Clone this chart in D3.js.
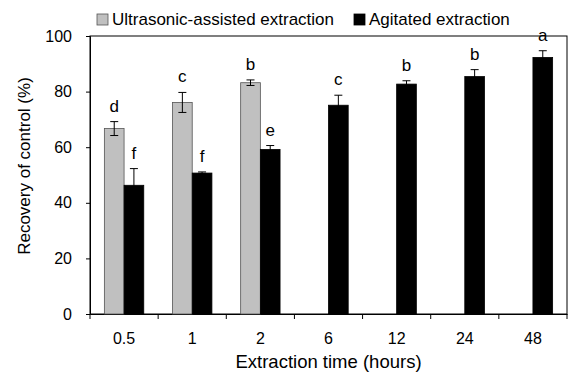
<!DOCTYPE html>
<html>
<head>
<meta charset="utf-8">
<script src="https://cdn.jsdelivr.net/npm/d3@7/dist/d3.min.js"></script>
<style>
  body { margin: 0; background: #fff; }
  text { font-family: "Liberation Sans", Arial, sans-serif; fill: #000; }
</style>
</head>
<body>
<div id="chart"></div>
<script>
// extraction times (hours)
const times = ['0.5', '1', '2', '6', '12', '24', '48'];
const yTicks = [0, 20, 40, 60, 80, 100];

// ultrasonic-assisted extraction (only first three times)
const ultraMean = [66.7, 76.1, 83.2, null, null, null, null];
const ultraErr = [2.5, 3.6, 1.0, null, null, null, null];
const ultraLetters = ['d', 'c', 'b', null, null, null, null];

// agitated extraction
const agitMean = [46.3, 50.7, 59.2, 75.1, 82.7, 85.4, 92.3];
const agitErr = [6.0, 0.4, 1.4, 3.6, 1.2, 2.5, 2.4];
const agitLetters = ['f', 'f', 'e', 'c', 'b', 'b', 'a'];

const seriesNames = ['Ultrasonic-assisted extraction', 'Agitated extraction'];
const seriesColors = ['#c0c0c0', '#000000'];

const W = 571, H = 378;
const margin = {top: 36, right: 4, bottom: 64, left: 90};
const innerW = W - margin.left - margin.right;
const innerH = H - margin.top - margin.bottom;

const svg = d3.select('#chart').append('svg')
    .attr('width', W)
    .attr('height', H);

const g = svg.append('g')
    .attr('transform', 'translate(' + margin.left + ',' + margin.top + ')');

const x = d3.scaleBand().domain(times).range([0, innerW]).padding(0);
const sub = d3.scaleBand().domain([0, 1]).range([x.bandwidth() / 2 - 19.7, x.bandwidth() / 2 + 19.7]);
const y = d3.scaleLinear().domain([0, 100]).range([innerH, 0]);

// frame
g.append('rect')
    .attr('width', innerW)
    .attr('height', innerH)
    .attr('fill', 'none')
    .attr('stroke', '#000')
    .attr('stroke-width', 1);

// y axis
const yAxis = g.append('g')
    .call(d3.axisLeft(y).tickValues(yTicks).tickSize(4).tickPadding(14));
yAxis.select('.domain').attr('stroke', '#000');
yAxis.selectAll('text').style('font-size', '16px').attr('fill', '#000');

// x axis: ticks at category boundaries
const xAxis = g.append('g')
    .attr('transform', 'translate(0,' + innerH + ')')
    .call(d3.axisBottom(x).tickSize(0).tickPadding(19));
xAxis.select('.domain').attr('stroke', '#000');
xAxis.selectAll('text').style('font-size', '16px').attr('fill', '#000');

const bounds = times.map(t => x(t)).concat([innerW]);
xAxis.selectAll('line.bound')
    .data(bounds)
    .enter().append('line')
    .attr('class', 'bound')
    .attr('x1', d => d).attr('x2', d => d)
    .attr('y1', 0).attr('y2', 5)
    .attr('stroke', '#000');

// build rows for both series
const rows = [];
times.forEach((t, i) => {
  if (ultraMean[i] != null) rows.push({t: t, s: 0, v: ultraMean[i], e: ultraErr[i], l: ultraLetters[i]});
  rows.push({t: t, s: 1, v: agitMean[i], e: agitErr[i], l: agitLetters[i]});
});

// bars
g.selectAll('rect.bar')
    .data(rows)
    .enter().append('rect')
    .attr('class', 'bar')
    .attr('x', d => x(d.t) + sub(d.s))
    .attr('y', d => y(d.v))
    .attr('width', sub.bandwidth())
    .attr('height', d => innerH - y(d.v))
    .attr('fill', d => seriesColors[d.s])
    .attr('stroke', d => d.s === 0 ? '#555' : '#000')
    .attr('stroke-width', 0.8);

// error bars
const eb = g.selectAll('g.err')
    .data(rows)
    .enter().append('g')
    .attr('class', 'err')
    .attr('transform', d => 'translate(' + (x(d.t) + sub(d.s) + sub.bandwidth() / 2) + ',0)');
eb.append('line')
    .attr('x1', 0).attr('x2', 0)
    .attr('y1', d => y(d.v + d.e)).attr('y2', d => y(d.v - d.e))
    .attr('stroke', '#000');
eb.append('line')
    .attr('x1', -4).attr('x2', 4)
    .attr('y1', d => y(d.v + d.e)).attr('y2', d => y(d.v + d.e))
    .attr('stroke', '#000');
eb.append('line')
    .attr('x1', -4).attr('x2', 4)
    .attr('y1', d => y(d.v - d.e)).attr('y2', d => y(d.v - d.e))
    .attr('stroke', '#000');

// significance letters
eb.append('text')
    .attr('x', 0)
    .attr('y', d => y(d.v + d.e) - 10)
    .attr('text-anchor', 'middle')
    .style('font-size', '17px')
    .text(d => d.l);

// axis titles
svg.append('text')
    .attr('x', margin.left + innerW / 2)
    .attr('y', 368)
    .attr('text-anchor', 'middle')
    .style('font-size', '18.5px')
    .text('Extraction time (hours)');

svg.append('text')
    .attr('transform', 'translate(30,166) rotate(-90)')
    .attr('text-anchor', 'middle')
    .style('font-size', '17px')
    .text('Recovery of control (%)');

// legend
const legendX = [97, 354];
const legend = svg.selectAll('g.legend')
    .data(seriesNames)
    .enter().append('g')
    .attr('class', 'legend')
    .attr('transform', (d, i) => 'translate(' + legendX[i] + ',14)');
legend.append('rect')
    .attr('width', 11).attr('height', 11)
    .attr('fill', (d, i) => seriesColors[i])
    .attr('stroke', (d, i) => i === 0 ? '#555' : '#000')
    .attr('stroke-width', 0.8);
legend.append('text')
    .attr('x', 15)
    .attr('y', 11)
    .style('font-size', '17px')
    .text(d => d);
</script>
</body>
</html>
